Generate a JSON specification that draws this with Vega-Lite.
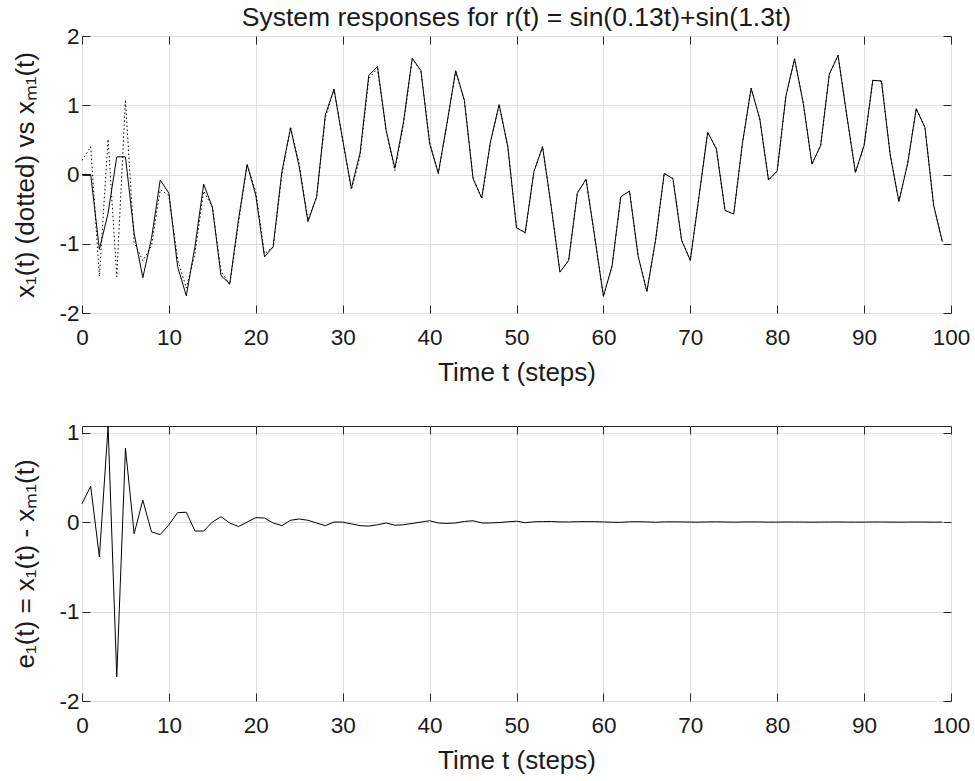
{
  "$schema": "https://vega.github.io/schema/vega-lite/v6.json",
  "background": "white",
  "autosize": {"type": "none"},
  "padding": {"left": 82, "top": 36, "right": 893, "bottom": 745},
  "config": {
    "font": "Liberation Sans",
    "view": {"stroke": "#262626", "strokeWidth": 1},
    "axis": {
      "labelFont": "Liberation Sans", "labelFontSize": 22.5, "labelColor": "#1a1a1a", "labelFlush": false, "labelOverlap": false,
      "labelExpr": "datum.value + ''",
      "titleFont": "Liberation Sans", "titleFontSize": 26, "titleFontWeight": "normal", "titleColor": "#1a1a1a",
      "gridColor": "#e0e0e0", "gridWidth": 1, "domain": false,
      "tickColor": "#262626", "tickSize": -8
    },
    "axisX": {"labelPadding": 21.5, "titlePadding": 10},
    "axisY": {"labelPadding": 11, "titlePadding": 20},
    "title": {"font": "Liberation Sans", "fontSize": 26.5, "fontWeight": "normal", "color": "#1a1a1a"}
  },
  "data": {"values": [
    {"t":0,"xm":0,"e":0.205,"x1":0.205},
    {"t":1,"xm":0,"e":0.40,"x1":0.40},
    {"t":2,"xm":-1.08,"e":-0.39,"x1":-1.47},
    {"t":3,"xm":-0.56,"e":1.07,"x1":0.51},
    {"t":4,"xm":0.255,"e":-1.73,"x1":-1.475},
    {"t":5,"xm":0.255,"e":0.825,"x1":1.08},
    {"t":6,"xm":-0.85,"e":-0.13,"x1":-0.98},
    {"t":7,"xm":-1.49,"e":0.245,"x1":-1.245},
    {"t":8,"xm":-0.92,"e":-0.11,"x1":-1.03},
    {"t":9,"xm":-0.08,"e":-0.14,"x1":-0.22},
    {"t":10,"xm":-0.27,"e":-0.03,"x1":-0.30},
    {"t":11,"xm":-1.33,"e":0.105,"x1":-1.225},
    {"t":12,"xm":-1.75,"e":0.11,"x1":-1.64},
    {"t":13,"xm":-1.04,"e":-0.10,"x1":-1.14},
    {"t":14,"xm":-0.14,"e":-0.10,"x1":-0.24},
    {"t":15,"xm":-0.47,"e":0.0,"x1":-0.47},
    {"t":16,"xm":-1.46,"e":0.06,"x1":-1.40},
    {"t":17,"xm":-1.58,"e":-0.01,"x1":-1.59},
    {"t":18,"xm":-0.66,"e":-0.05,"x1":-0.71},
    {"t":19,"xm":0.145,"e":0.0,"x1":0.145},
    {"t":20,"xm":-0.30,"e":0.05,"x1":-0.25},
    {"t":21,"xm":-1.19,"e":0.045,"x1":-1.145},
    {"t":22,"xm":-1.04,"e":-0.01,"x1":-1.05},
    {"t":23,"xm":0.04,"e":-0.04,"x1":0.0},
    {"t":24,"xm":0.67,"e":0.02,"x1":0.69},
    {"t":25,"xm":0.11,"e":0.035,"x1":0.145},
    {"t":26,"xm":-0.68,"e":0.02,"x1":-0.66},
    {"t":27,"xm":-0.32,"e":-0.01,"x1":-0.33},
    {"t":28,"xm":0.86,"e":-0.04,"x1":0.82},
    {"t":29,"xm":1.23,"e":0.0,"x1":1.23},
    {"t":30,"xm":0.50,"e":0.0,"x1":0.50},
    {"t":31,"xm":-0.20,"e":-0.02,"x1":-0.22},
    {"t":32,"xm":0.31,"e":-0.04,"x1":0.27},
    {"t":33,"xm":1.43,"e":-0.045,"x1":1.385},
    {"t":34,"xm":1.56,"e":-0.03,"x1":1.53},
    {"t":35,"xm":0.64,"e":-0.01,"x1":0.63},
    {"t":36,"xm":0.09,"e":-0.035,"x1":0.055},
    {"t":37,"xm":0.76,"e":-0.03,"x1":0.73},
    {"t":38,"xm":1.68,"e":-0.015,"x1":1.665},
    {"t":39,"xm":1.50,"e":0.0,"x1":1.50},
    {"t":40,"xm":0.45,"e":0.015,"x1":0.465},
    {"t":41,"xm":0.02,"e":-0.01,"x1":0.01},
    {"t":42,"xm":0.74,"e":-0.015,"x1":0.725},
    {"t":43,"xm":1.50,"e":-0.01,"x1":1.49},
    {"t":44,"xm":1.07,"e":0.007,"x1":1.077},
    {"t":45,"xm":-0.06,"e":0.015,"x1":-0.045},
    {"t":46,"xm":-0.34,"e":-0.01,"x1":-0.35},
    {"t":47,"xm":0.47,"e":-0.01,"x1":0.46},
    {"t":48,"xm":1.01,"e":-0.005,"x1":1.005},
    {"t":49,"xm":0.40,"e":0.003,"x1":0.403},
    {"t":50,"xm":-0.77,"e":0.01,"x1":-0.76},
    {"t":51,"xm":-0.84,"e":-0.007,"x1":-0.847},
    {"t":52,"xm":0.04,"e":0.003,"x1":0.043},
    {"t":53,"xm":0.40,"e":0.005,"x1":0.405},
    {"t":54,"xm":-0.47,"e":0.006,"x1":-0.464},
    {"t":55,"xm":-1.41,"e":0.002,"x1":-1.408},
    {"t":56,"xm":-1.24,"e":0.001,"x1":-1.239},
    {"t":57,"xm":-0.27,"e":0.004,"x1":-0.266},
    {"t":58,"xm":-0.07,"e":0.005,"x1":-0.065},
    {"t":59,"xm":-0.90,"e":0.004,"x1":-0.896},
    {"t":60,"xm":-1.76,"e":0.002,"x1":-1.758},
    {"t":61,"xm":-1.32,"e":-0.002,"x1":-1.322},
    {"t":62,"xm":-0.32,"e":-0.003,"x1":-0.323},
    {"t":63,"xm":-0.24,"e":0.003,"x1":-0.237},
    {"t":64,"xm":-1.18,"e":0.004,"x1":-1.176},
    {"t":65,"xm":-1.69,"e":0.002,"x1":-1.688},
    {"t":66,"xm":-0.95,"e":-0.002,"x1":-0.952},
    {"t":67,"xm":0.015,"e":0.002,"x1":0.017},
    {"t":68,"xm":-0.06,"e":0.003,"x1":-0.057},
    {"t":69,"xm":-0.95,"e":0.002,"x1":-0.948},
    {"t":70,"xm":-1.24,"e":0.0,"x1":-1.24},
    {"t":71,"xm":-0.32,"e":-0.001,"x1":-0.321},
    {"t":72,"xm":0.61,"e":0.002,"x1":0.612},
    {"t":73,"xm":0.37,"e":0.003,"x1":0.373},
    {"t":74,"xm":-0.52,"e":0.001,"x1":-0.519},
    {"t":75,"xm":-0.57,"e":-0.001,"x1":-0.571},
    {"t":76,"xm":0.45,"e":0.001,"x1":0.451},
    {"t":77,"xm":1.245,"e":0.002,"x1":1.247},
    {"t":78,"xm":0.80,"e":0.001,"x1":0.801},
    {"t":79,"xm":-0.08,"e":-0.001,"x1":-0.081},
    {"t":80,"xm":0.05,"e":0.0,"x1":0.05},
    {"t":81,"xm":1.13,"e":0.001,"x1":1.131},
    {"t":82,"xm":1.67,"e":0.001,"x1":1.671},
    {"t":83,"xm":1.03,"e":0.0,"x1":1.03},
    {"t":84,"xm":0.15,"e":-0.001,"x1":0.149},
    {"t":85,"xm":0.42,"e":0.0,"x1":0.42},
    {"t":86,"xm":1.45,"e":0.001,"x1":1.451},
    {"t":87,"xm":1.72,"e":0.001,"x1":1.721},
    {"t":88,"xm":0.86,"e":0.0,"x1":0.86},
    {"t":89,"xm":0.03,"e":-0.001,"x1":0.029},
    {"t":90,"xm":0.42,"e":0.0,"x1":0.42},
    {"t":91,"xm":1.36,"e":0.001,"x1":1.361},
    {"t":92,"xm":1.35,"e":0.001,"x1":1.351},
    {"t":93,"xm":0.29,"e":0.0,"x1":0.29},
    {"t":94,"xm":-0.39,"e":-0.001,"x1":-0.391},
    {"t":95,"xm":0.15,"e":0.0,"x1":0.15},
    {"t":96,"xm":0.95,"e":0.001,"x1":0.951},
    {"t":97,"xm":0.68,"e":0.0,"x1":0.68},
    {"t":98,"xm":-0.44,"e":-0.001,"x1":-0.441},
    {"t":99,"xm":-0.97,"e":0.0,"x1":-0.97}
  ]},
  "spacing": 35,
  "vconcat": [
    {
      "width": 869, "height": 277,
      "title": {"text": "System responses for r(t) = sin(0.13t)+sin(1.3t)", "offset": -6},
      "layer": [
        {
          "mark": {"type": "line", "color": "black", "strokeWidth": 1, "strokeDash": [1.5, 2.5]},
          "encoding": {
            "x": {"field": "t", "type": "quantitative", "scale": {"domain": [0, 100], "nice": false},
                  "axis": {"title": "Time t (steps)", "values": [0,10,20,30,40,50,60,70,80,90,100], "grid": true}},
            "y": {"field": "x1", "type": "quantitative", "scale": {"domain": [-2, 2], "nice": false},
                  "axis": {"title": "x₁(t) (dotted) vs xₘ₁(t)", "values": [-2,-1,0,1,2], "grid": true}}
          }
        },
        {
          "mark": {"type": "line", "color": "black", "strokeWidth": 1},
          "encoding": {
            "x": {"field": "t", "type": "quantitative", "scale": {"domain": [0, 100], "nice": false},
                  "axis": {"orient": "top", "title": null, "labels": false, "grid": false, "labelPadding": 0, "values": [0,10,20,30,40,50,60,70,80,90,100]}},
            "y": {"field": "xm", "type": "quantitative", "scale": {"domain": [-2, 2], "nice": false},
                  "axis": {"orient": "right", "title": null, "labels": false, "grid": false, "labelPadding": 0, "values": [-2,-1,0,1,2]}}
          }
        }
      ],
      "resolve": {"axis": {"x": "independent", "y": "independent"}}
    },
    {
      "width": 869, "height": 275,
      "layer": [
        {
          "mark": {"type": "line", "color": "black", "strokeWidth": 1},
          "encoding": {
            "x": {"field": "t", "type": "quantitative", "scale": {"domain": [0, 100], "nice": false},
                  "axis": {"title": "Time t (steps)", "values": [0,10,20,30,40,50,60,70,80,90,100], "grid": true}},
            "y": {"field": "e", "type": "quantitative", "scale": {"domain": [-2, 1.074], "nice": false, "zero": false},
                  "axis": {"title": "e₁(t) = x₁(t) - xₘ₁(t)", "values": [-2,-1,0,1], "grid": true}}
          }
        },
        {
          "mark": {"type": "line", "color": "black", "strokeWidth": 1, "opacity": 0},
          "encoding": {
            "x": {"field": "t", "type": "quantitative", "scale": {"domain": [0, 100], "nice": false},
                  "axis": {"orient": "top", "title": null, "labels": false, "grid": false, "labelPadding": 0, "values": [0,10,20,30,40,50,60,70,80,90,100]}},
            "y": {"field": "e", "type": "quantitative", "scale": {"domain": [-2, 1.074], "nice": false, "zero": false},
                  "axis": {"orient": "right", "title": null, "labels": false, "grid": false, "labelPadding": 0, "values": [-2,-1,0,1]}}
          }
        }
      ],
      "resolve": {"axis": {"x": "independent", "y": "independent"}}
    }
  ]
}
